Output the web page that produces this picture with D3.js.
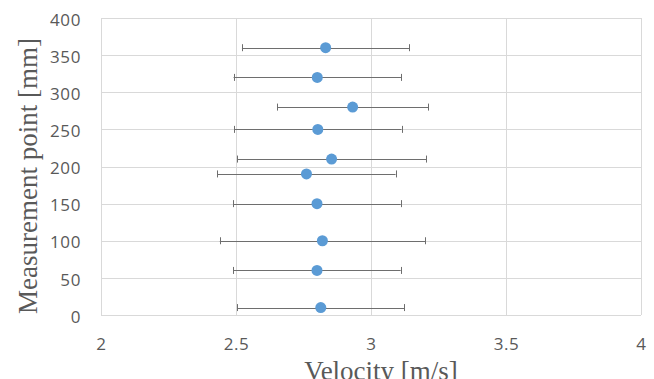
<!DOCTYPE html>
<html>
<head>
<meta charset="utf-8">
<script src="https://cdn.jsdelivr.net/npm/d3@7"></script>
<style>
  html, body { margin: 0; padding: 0; background: #fff; overflow: hidden; }
  svg { display: block; }
</style>
</head>
<body>
<div id="chart"></div>
<script>
const w = 654;
const h = 379;

// measurement positions (mm) and mean velocity (m/s) with +/- error
const positions = [10, 60, 100, 150, 190, 210, 250, 280, 320, 360];
const velocity = [2.814, 2.80, 2.82, 2.80, 2.761, 2.854, 2.803, 2.932, 2.801, 2.832];
const velocityErr = [0.31, 0.31, 0.38, 0.31, 0.33, 0.35, 0.31, 0.28, 0.31, 0.31];

const xTicks = [2, 2.5, 3, 3.5, 4];
const yTicks = [0, 50, 100, 150, 200, 250, 300, 350, 400];

const plot = { left: 101, right: 641, top: 18, bottom: 315 };

const svg = d3.select('#chart').append('svg')
    .attr('width', w)
    .attr('height', h);

const xScale = d3.scaleLinear().domain([2, 4]).range([plot.left, plot.right]);
const yScale = d3.scaleLinear().domain([0, 400]).range([plot.bottom, plot.top]);

// gridlines
const grid = svg.append('g').attr('class', 'grid');
grid.selectAll('.hgrid')
    .data(yTicks)
    .enter()
    .append('line')
    .attr('x1', plot.left)
    .attr('x2', plot.right)
    .attr('y1', (d) => Math.round(yScale(d)) + 0.5)
    .attr('y2', (d) => Math.round(yScale(d)) + 0.5)
    .attr('stroke', '#d9d9d9')
    .attr('stroke-width', 1);
grid.selectAll('.vgrid')
    .data(xTicks)
    .enter()
    .append('line')
    .attr('x1', (d) => Math.round(xScale(d)) + 0.5)
    .attr('x2', (d) => Math.round(xScale(d)) + 0.5)
    .attr('y1', plot.top)
    .attr('y2', plot.bottom)
    .attr('stroke', '#d9d9d9')
    .attr('stroke-width', 1);

// tick labels
const xAxis = d3.axisBottom(xScale).tickValues(xTicks).tickSize(0).tickPadding(0).tickFormat(d3.format('~g'));
const xAxisGroup = svg.append('g')
    .attr('transform', `translate(0,${plot.bottom})`)
    .call(xAxis);
xAxisGroup.select('.domain').remove();
xAxisGroup.selectAll('text')
    .attr('y', 35)
    .attr('dy', 0)
    .style('font-family', "'Open Sans', sans-serif")
    .style('font-size', '17px')
    .style('letter-spacing', '0.6px')
    .style('fill', '#595959');

const yAxis = d3.axisLeft(yScale).tickValues(yTicks).tickSize(0).tickPadding(0);
const yAxisGroup = svg.append('g')
    .attr('transform', `translate(${plot.left},0)`)
    .call(yAxis);
yAxisGroup.select('.domain').remove();
yAxisGroup.selectAll('text')
    .attr('x', -20)
    .attr('dy', '0.42em')
    .style('font-family', "'Open Sans', sans-serif")
    .style('font-size', '17px')
    .style('letter-spacing', '0.6px')
    .style('fill', '#595959');

const rows = positions.map((p, i) => ({ pos: p, v: velocity[i], err: velocityErr[i] }));

// error bars
const bars = svg.append('g').attr('class', 'errbars');
bars.selectAll('.err')
    .data(rows)
    .enter()
    .append('line')
    .attr('x1', (d) => xScale(d.v - d.err))
    .attr('x2', (d) => xScale(d.v + d.err))
    .attr('y1', (d) => Math.round(yScale(d.pos)) + 0.5)
    .attr('y2', (d) => Math.round(yScale(d.pos)) + 0.5)
    .attr('stroke', '#6e6e6e')
    .attr('stroke-width', 1);
[-1, 1].forEach((s) => {
    bars.selectAll(`.cap${s}`)
        .data(rows)
        .enter()
        .append('line')
        .attr('x1', (d) => Math.round(xScale(d.v + s * d.err)) + 0.5)
        .attr('x2', (d) => Math.round(xScale(d.v + s * d.err)) + 0.5)
        .attr('y1', (d) => yScale(d.pos) - 3.5)
        .attr('y2', (d) => yScale(d.pos) + 3.5)
        .attr('stroke', '#6e6e6e')
        .attr('stroke-width', 1);
});

// points
svg.append('g').selectAll('circle')
    .data(rows)
    .enter()
    .append('circle')
    .attr('cx', (d) => xScale(d.v))
    .attr('cy', (d) => yScale(d.pos))
    .attr('r', 5.5)
    .style('fill', '#5b9bd5');

// axis titles
svg.append('text')
    .attr('x', 381)
    .attr('y', 380)
    .attr('text-anchor', 'middle')
    .style('font-family', "'Liberation Serif', 'Times New Roman', serif")
    .style('font-size', '27px')
    .style('fill', '#595959')
    .text('Velocity [m/s]');

svg.append('text')
    .attr('transform', `translate(37,${176}) rotate(-90)`)
    .attr('text-anchor', 'middle')
    .style('font-family', "'Liberation Serif', 'Times New Roman', serif")
    .style('font-size', '27px')
    .style('fill', '#595959')
    .text('Measurement point [mm]');
</script>
</body>
</html>
